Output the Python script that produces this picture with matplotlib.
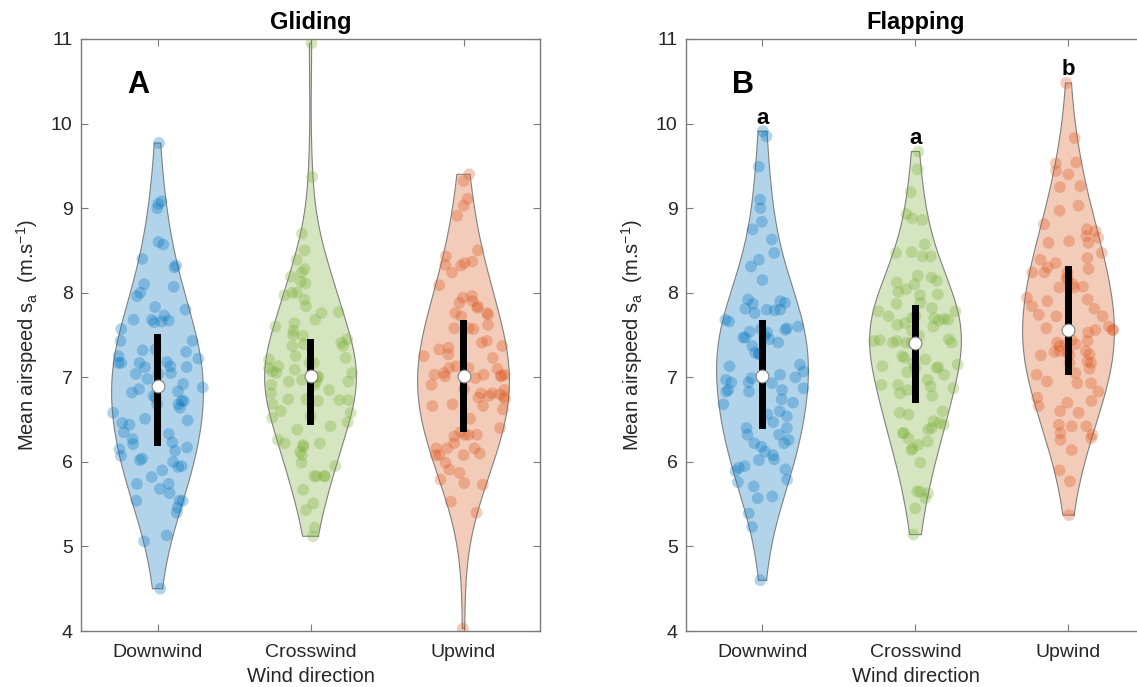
import numpy as np
import matplotlib
matplotlib.use('Agg')
import matplotlib.pyplot as plt

plt.rcParams['font.family'] = ['Liberation Sans', 'DejaVu Sans']
plt.rcParams['mathtext.fontset'] = 'custom'
plt.rcParams['mathtext.rm'] = 'Liberation Sans'
plt.rcParams['mathtext.it'] = 'Liberation Sans:italic'

categories = ['Downwind', 'Crosswind', 'Upwind']
colors = ['#0072BD', '#77AC30', '#D95319']

glide_down = [9.77, 9.08, 9.05, 9.0, 8.6, 8.57, 8.4, 8.32, 8.3, 8.1, 8.07, 8.0, 7.96, 7.83, 7.8,
              7.73, 7.68, 7.68, 7.66, 7.67, 7.65, 7.57, 7.43, 7.43, 7.32, 7.33, 7.3, 7.25, 7.22,
              7.18, 7.17, 7.17, 7.17, 7.13, 7.12, 7.12, 7.04, 7.04, 7.05, 6.98, 6.92, 6.88, 6.86,
              6.83, 6.82, 6.78, 6.72, 6.76, 6.72, 6.68, 6.68, 6.64, 6.58, 6.51, 6.49, 6.46, 6.44,
              6.35, 6.33, 6.27, 6.23, 6.21, 6.17, 6.15, 6.13, 6.07, 6.04, 6.02, 6.0, 5.95, 5.94,
              5.9, 5.82, 5.74, 5.74, 5.68, 5.63, 5.54, 5.54, 5.54, 5.46, 5.4, 5.13, 5.06, 4.5]
glide_cross = [10.95, 9.37, 8.70, 8.5, 8.39, 8.28, 8.24, 8.19, 8.13, 8.11, 8.0, 7.97, 8.0, 7.92,
               7.84, 7.77, 7.76, 7.68, 7.64, 7.6, 7.55, 7.5, 7.49, 7.45, 7.41, 7.39, 7.37, 7.37,
               7.25, 7.23, 7.21, 7.17, 7.17, 7.13, 7.11, 7.09, 7.07, 7.05, 7.05, 7.01, 7.0, 6.97,
               6.95, 6.95, 6.95, 6.91, 6.91, 6.85, 6.81, 6.74, 6.73, 6.73, 6.72, 6.74, 6.68, 6.6,
               6.58, 6.54, 6.52, 6.47, 6.42, 6.38, 6.26, 6.22, 6.22, 6.2, 6.18, 6.12, 6.08, 5.99,
               5.95, 5.83, 5.83, 5.83, 5.83, 5.67, 5.51, 5.43, 5.22, 5.12]
glide_up = [9.40, 9.32, 9.11, 9.03, 8.91, 8.50, 8.43, 8.37, 8.33, 8.32, 8.35, 8.24, 8.09, 7.96,
            7.94, 7.9, 7.88, 7.84, 7.82, 7.76, 7.76, 7.74, 7.72, 7.62, 7.58, 7.57, 7.58, 7.43,
            7.41, 7.37, 7.35, 7.33, 7.25, 7.23, 7.27, 7.13, 7.11, 7.11, 7.1, 7.05, 7.03, 7.03,
            7.02, 7.03, 7.01, 7.01, 6.99, 6.91, 6.86, 6.85, 6.81, 6.81, 6.8, 6.78, 6.77, 6.76,
            6.74, 6.68, 6.66, 6.66, 6.62, 6.51, 6.4, 6.35, 6.32, 6.32, 6.3, 6.32, 6.22, 6.16,
            6.16, 6.16, 6.08, 6.08, 6.08, 6.1, 5.99, 5.91, 5.87, 5.79, 5.75, 5.73, 5.53, 5.40, 4.03]

flap_down = [9.91, 9.85, 9.49, 9.1, 9.0, 8.84, 8.75, 8.63, 8.47, 8.39, 8.31, 8.15, 7.92, 7.9,
             7.87, 7.88, 7.8, 7.81, 7.8, 7.79, 7.76, 7.68, 7.66, 7.6, 7.58, 7.56, 7.54, 7.57,
             7.53, 7.49, 7.47, 7.47, 7.45, 7.41, 7.37, 7.29, 7.28, 7.27, 7.15, 7.13, 7.07, 7.03,
             6.99, 7.0, 6.97, 6.94, 6.94, 6.93, 6.87, 6.85, 6.85, 6.83, 6.83, 6.74, 6.7, 6.68,
             6.6, 6.56, 6.54, 6.47, 6.4, 6.4, 6.32, 6.32, 6.26, 6.22, 6.18, 6.22, 6.12, 6.08,
             6.03, 6.02, 5.95, 5.93, 5.91, 5.89, 5.79, 5.76, 5.71, 5.59, 5.57, 5.39, 5.23, 4.6]
flap_cross = [9.67, 9.46, 9.19, 8.93, 8.88, 8.86, 8.57, 8.48, 8.43, 8.43, 8.47, 8.2, 8.18, 8.14,
              8.12, 8.1, 8.04, 8.01, 7.98, 7.97, 7.88, 7.87, 7.82, 7.78, 7.78, 7.72, 7.72, 7.7,
              7.7, 7.69, 7.68, 7.67, 7.64, 7.62, 7.6, 7.55, 7.49, 7.45, 7.44, 7.43, 7.41, 7.41,
              7.43, 7.41, 7.41, 7.25, 7.23, 7.21, 7.17, 7.13, 7.11, 7.11, 7.12, 7.15, 7.06, 7.03,
              6.97, 6.91, 6.89, 6.87, 6.91, 6.85, 6.81, 6.78, 6.6, 6.58, 6.56, 6.48, 6.46, 6.44,
              6.4, 6.38, 6.34, 6.34, 6.28, 6.24, 6.2, 6.16, 6.14, 5.99, 5.65, 5.65, 5.63, 5.57,
              5.45, 5.14]
flap_up = [10.48, 9.83, 9.54, 9.53, 9.44, 9.4, 9.26, 9.25, 8.97, 9.03, 8.81, 8.75, 8.73, 8.67,
           8.65, 8.61, 8.59, 8.59, 8.47, 8.41, 8.39, 8.35, 8.3, 8.28, 8.24, 8.24, 8.24, 8.16,
           8.17, 8.1, 8.07, 8.06, 8.06, 7.94, 7.92, 7.9, 7.84, 7.81, 7.74, 7.72, 7.72, 7.6,
           7.56, 7.56, 7.56, 7.58, 7.53, 7.44, 7.43, 7.41, 7.39, 7.39, 7.37, 7.31, 7.31, 7.3,
           7.29, 7.27, 7.26, 7.27, 7.19, 7.17, 7.17, 7.1, 7.05, 7.03, 6.95, 6.93, 6.93, 6.83,
           6.76, 6.72, 6.7, 6.66, 6.6, 6.58, 6.44, 6.42, 6.42, 6.34, 6.32, 6.28, 6.26, 6.14,
           5.9, 5.77, 5.37]

# summary statistics (median, lower / upper quartile)
glide_median = [6.90, 7.01, 7.01]
glide_q1 = [6.19, 6.43, 6.35]
glide_q3 = [7.51, 7.45, 7.68]
flap_median = [7.01, 7.40, 7.56]
flap_q1 = [6.39, 6.70, 7.03]
flap_q3 = [7.68, 7.85, 8.32]

flap_letters = ['a', 'a', 'b']
y_ticks = [4, 5, 6, 7, 8, 9, 10, 11]

W, H = 1137, 687
fig = plt.figure(figsize=(W / 100, H / 100), dpi=100)

SPINE = '#7a7a7a'
TXT = '#262626'


def draw_violin(ax, pos, data, color, seed):
    data = np.asarray(data, dtype=float)
    n = len(data)
    sig = np.median(np.abs(data - np.median(data))) / 0.6745
    bw = 1.35 * sig * (4.0 / (3.0 * n)) ** 0.2
    value = np.linspace(data.min(), data.max(), 240)
    dens = np.exp(-0.5 * ((value[:, None] - data[None, :]) / bw) ** 2).sum(axis=1)
    dw = dens * (0.3 / dens.max())
    xs = np.r_[pos + dw, pos - dw[::-1], pos + dw[0]]
    ys = np.r_[value, value[::-1], value[0]]
    ax.fill(xs, ys, facecolor=color, alpha=0.3, edgecolor='none', zorder=1)
    ax.plot(xs, ys, color='#808080', lw=0.8, zorder=2)
    rng = np.random.default_rng(seed)
    js = np.interp(data, value, dw)
    jit = 2 * (rng.random(n) - 0.5)
    ax.scatter(pos + jit * js, data, s=72, color=color, alpha=0.3,
               edgecolors='none', zorder=3)


def setup(ax, title, letter, groups, med, q1, q3):
    for i, d in enumerate(groups):
        pos = i + 1
        draw_violin(ax, pos, d, colors[i], seed=11 + i * 7 + len(d))
        ax.bar(pos, q3[i] - q1[i], bottom=q1[i], width=0.04, color='black',
               zorder=4, linewidth=0)
        ax.scatter([pos], [med[i]], s=85, facecolor='white', edgecolor='#808080',
                   linewidth=0.8, zorder=5)
    ax.set_xlim(0.5, 3.5)
    ax.set_ylim(4, 11)
    ax.set_xticks([1, 2, 3])
    ax.set_xticklabels(categories)
    ax.set_yticks(y_ticks)
    ax.tick_params(direction='in', length=5, width=0.8, colors=SPINE,
                   labelcolor=TXT, labelsize=14, top=True, right=True)
    ax.tick_params(axis='x', pad=9.5)
    ax.tick_params(axis='y', pad=6)
    for s in ax.spines.values():
        s.set_color(SPINE)
        s.set_linewidth(1.0)
    ax.set_title(title, fontsize=17, fontweight='bold', color='black', pad=7)
    ax.set_xlabel('Wind direction', fontsize=14.5, color=TXT, labelpad=4.5)
    ax.set_ylabel(r'Mean airspeed $\mathregular{s_a}$  (m.s$^{\mathregular{-1}}$)',
                  fontsize=14.5, color=TXT, labelpad=8)
    ax.text(0.1, 0.909, letter, transform=ax.transAxes, fontsize=22,
            fontweight='bold', ha='left', va='baseline', color='black')


ax1 = fig.add_axes([81 / W, (H - 631) / H, 459 / W, 592 / H])
setup(ax1, 'Gliding', 'A', [glide_down, glide_cross, glide_up],
      glide_median, glide_q1, glide_q3)

ax2 = fig.add_axes([686 / W, (H - 631) / H, 459 / W, 592 / H])
flap_groups = [flap_down, flap_cross, flap_up]
setup(ax2, 'Flapping', 'B', flap_groups, flap_median, flap_q1, flap_q3)
for i, d in enumerate(flap_groups):
    ax2.text(i + 1, max(d) + 0.09, flap_letters[i], ha='center', va='baseline',
             fontsize=16, fontweight='bold', color='black')

fig.savefig('out.png', dpi=100)
